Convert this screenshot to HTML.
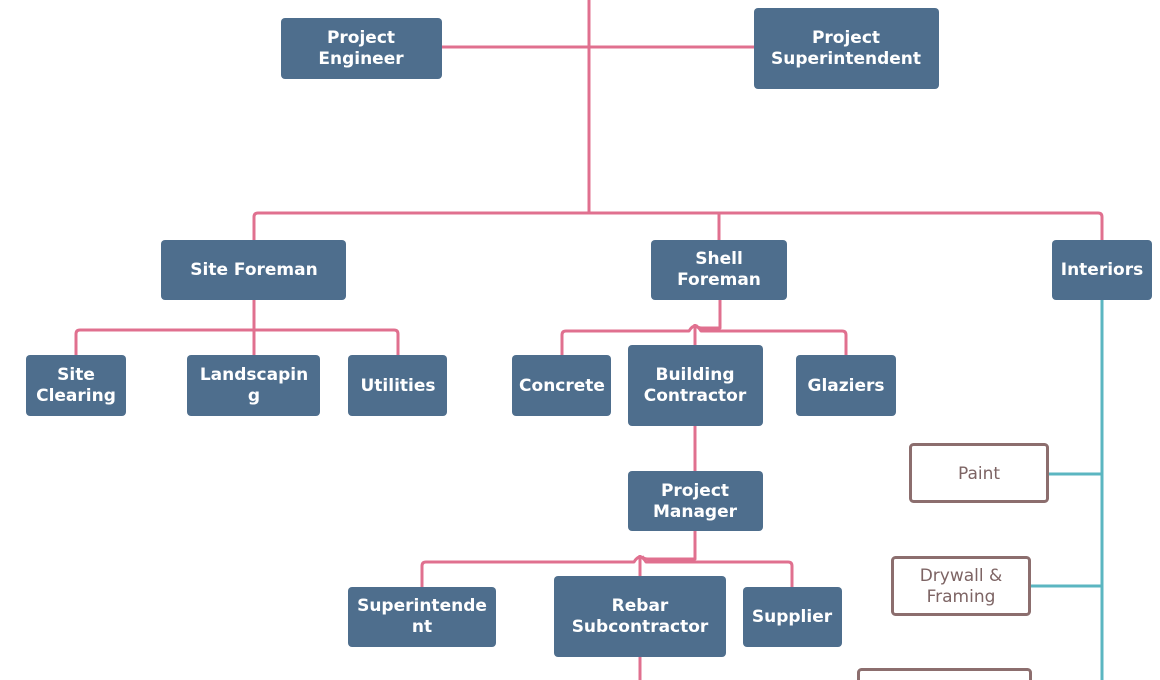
<!DOCTYPE html>
<html><head><meta charset="utf-8"><style>
html,body{margin:0;padding:0;background:#fff;}
svg{display:block;}
.b{fill:#4e6e8d;}
.t{font-family:"DejaVu Sans","Liberation Sans",sans-serif;font-weight:bold;font-size:17px;fill:#fff;text-anchor:middle;dominant-baseline:central;}
.o{fill:#fff;stroke:#8c6e6e;stroke-width:3;}
.ot{font-family:"DejaVu Sans","Liberation Sans",sans-serif;font-size:17px;fill:#7d6464;text-anchor:middle;dominant-baseline:central;}
.p{fill:none;stroke:#e0708f;stroke-width:3;stroke-linejoin:round;}
.c{fill:none;stroke:#5bb6c1;stroke-width:3;}
</style></head><body>
<svg width="1160" height="680" viewBox="0 0 1160 680" xmlns="http://www.w3.org/2000/svg">
<!-- pink connectors -->
<path class="p" d="M589 0 V213"/>
<path class="p" d="M441 47 H754"/>
<path class="p" d="M254 240 V217 Q254 213 258 213 H1098 Q1102 213 1102 217 V240"/>
<path class="p" d="M719 213 V240"/>
<!-- site foreman -->
<path class="p" d="M254 300 V355"/>
<path class="p" d="M76 355 V334 Q76 330 80 330 H394 Q398 330 398 334 V355"/>
<!-- shell foreman -->
<path class="p" d="M720 300 V328 H702 Q697 328 696 325"/>
<path class="p" d="M562 355 V335 Q562 331 566 331 H689 Q695 321 701 331 H842 Q846 331 846 335 V355"/>
<path class="p" d="M695 324 V345"/>
<!-- building contractor -> PM -->
<path class="p" d="M695 426 V471"/>
<!-- PM children -->
<path class="p" d="M695 531 V559 H648 Q643 559 642 556"/>
<path class="p" d="M422 587 V566 Q422 562 426 562 H634 Q640 552 646 562 H788 Q792 562 792 566 V587"/>
<path class="p" d="M640 555 V576"/>
<path class="p" d="M640 657 V680"/>
<!-- teal -->
<path class="c" d="M1102 300 V680"/>
<path class="c" d="M1047 474 H1102"/>
<path class="c" d="M1030 586 H1102"/>

<!-- boxes -->
<rect class="b" x="281" y="18" width="161" height="61" rx="4"/>
<text class="t" x="361" y="38">Project</text><text class="t" x="361" y="59">Engineer</text>

<rect class="b" x="754" y="8" width="185" height="81" rx="4"/>
<text class="t" x="846" y="38">Project</text><text class="t" x="846" y="59">Superintendent</text>

<rect class="b" x="161" y="240" width="185" height="60" rx="4"/>
<text class="t" x="254" y="270">Site Foreman</text>

<rect class="b" x="651" y="240" width="136" height="60" rx="4"/>
<text class="t" x="719" y="259">Shell</text><text class="t" x="719" y="280">Foreman</text>

<rect class="b" x="1052" y="240" width="100" height="60" rx="4"/>
<text class="t" x="1102" y="270">Interiors</text>

<rect class="b" x="26" y="355" width="100" height="61" rx="4"/>
<text class="t" x="76" y="375">Site</text><text class="t" x="76" y="396">Clearing</text>

<rect class="b" x="187" y="355" width="133" height="61" rx="4"/>
<text class="t" x="254" y="375">Landscapin</text><text class="t" x="254" y="396">g</text>

<rect class="b" x="348" y="355" width="99" height="61" rx="4"/>
<text class="t" x="398" y="386">Utilities</text>

<rect class="b" x="512" y="355" width="99" height="61" rx="4"/>
<text class="t" x="562" y="386">Concrete</text>

<rect class="b" x="628" y="345" width="135" height="81" rx="4"/>
<text class="t" x="695" y="375">Building</text><text class="t" x="695" y="396">Contractor</text>

<rect class="b" x="796" y="355" width="100" height="61" rx="4"/>
<text class="t" x="846" y="386">Glaziers</text>

<rect class="b" x="628" y="471" width="135" height="60" rx="4"/>
<text class="t" x="695" y="491">Project</text><text class="t" x="695" y="512">Manager</text>

<rect class="b" x="348" y="587" width="148" height="60" rx="4"/>
<text class="t" x="422" y="606">Superintende</text><text class="t" x="422" y="627">nt</text>

<rect class="b" x="554" y="576" width="172" height="81" rx="4"/>
<text class="t" x="640" y="606">Rebar</text><text class="t" x="640" y="627">Subcontractor</text>

<rect class="b" x="743" y="587" width="99" height="60" rx="4"/>
<text class="t" x="792" y="617">Supplier</text>

<!-- outlined boxes -->
<rect class="o" x="910.5" y="444.5" width="137" height="57" rx="3"/>
<text class="ot" x="979" y="474">Paint</text>

<rect class="o" x="892.5" y="557.5" width="137" height="57" rx="3"/>
<text class="ot" x="961" y="576">Drywall &amp;</text><text class="ot" x="961" y="597">Framing</text>

<rect class="o" x="858.5" y="669.5" width="172" height="40" rx="3"/>
</svg>
</body></html>
